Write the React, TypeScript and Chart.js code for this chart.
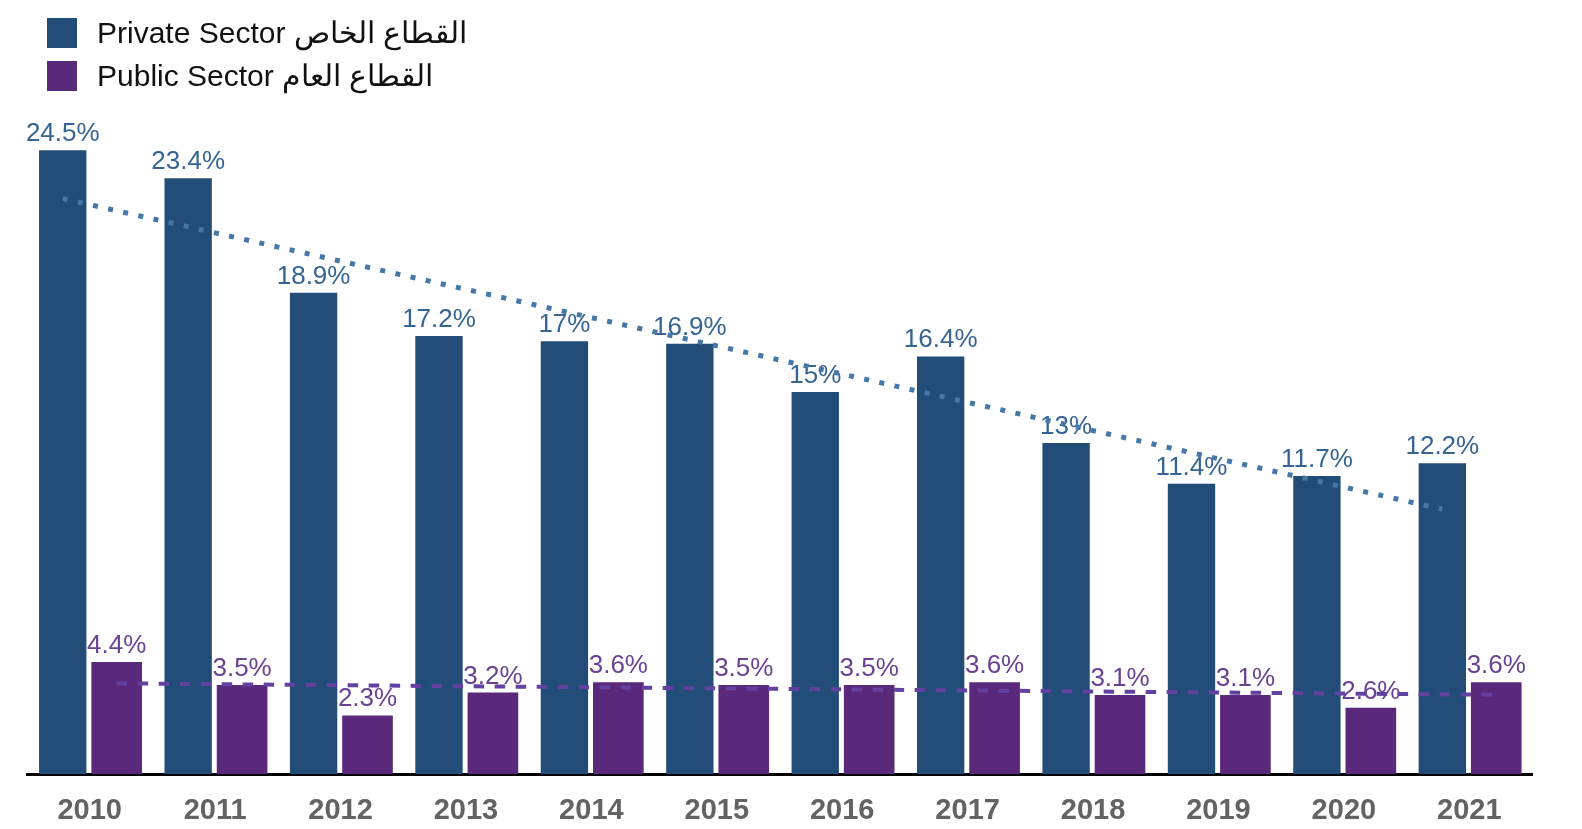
import React, { useEffect, useRef } from "react";
import { Chart, registerables } from "chart.js";

Chart.register(...registerables);

const years = ["2010", "2011", "2012", "2013", "2014", "2015", "2016", "2017", "2018", "2019", "2020", "2021"];
const privateSector = [24.5, 23.4, 18.9, 17.2, 17, 16.9, 15, 16.4, 13, 11.4, 11.7, 12.2];
const publicSector = [4.4, 3.5, 2.3, 3.2, 3.6, 3.5, 3.5, 3.6, 3.1, 3.1, 2.6, 3.6];
// trend line values read at the first and last year
const trendIndex = [0, 11];
const privateTrend = [22.6, 10.4];
const publicTrend = [3.56, 3.11];
const legendLabels = ["Private Sector القطاع الخاص", "Public Sector القطاع العام"];

const PRIVATE_COLOR = "#214d78";
const PUBLIC_COLOR = "#5b297b";
const PRIVATE_LABEL = "#36649395";
const PUBLIC_LABEL = "#6a4293";
const PRIVATE_TREND = "#4677a9";
const PUBLIC_TREND = "#6241a0";
const CATEGORY_PCT = 0.86;
const FONT = '"Liberation Sans", Arial, Helvetica, sans-serif';

const trends = [
  { datasetIndex: 0, values: privateTrend, color: PRIVATE_TREND, dash: [5, 10.5], width: 5 },
  { datasetIndex: 1, values: publicTrend, color: PUBLIC_TREND, dash: [10.5, 10.5], width: 4 },
];

const labelsAndTrends = {
  id: "labelsAndTrends",
  afterDatasetsDraw(chart: any) {
    const ctx = chart.ctx;
    const yScale = chart.scales.y;
    // value labels
    chart.data.datasets.forEach((ds: any, di: number) => {
      const meta = chart.getDatasetMeta(di);
      ctx.save();
      ctx.font = `26px ${FONT}`;
      ctx.fillStyle = ds.labelColor;
      ctx.textAlign = "center";
      ctx.textBaseline = "alphabetic";
      meta.data.forEach((el: any, i: number) => {
        ctx.fillText(`${ds.data[i]}%`, el.x, el.y - 9);
      });
      ctx.restore();
    });
    // trend lines
    trends.forEach((t) => {
      const meta = chart.getDatasetMeta(t.datasetIndex);
      ctx.save();
      ctx.strokeStyle = t.color;
      ctx.lineWidth = t.width;
      ctx.lineCap = "butt";
      ctx.setLineDash(t.dash);
      ctx.beginPath();
      trendIndex.forEach((xi, k) => {
        const x = meta.data[xi].x;
        const y = yScale.getPixelForValue(t.values[k]);
        if (k === 0) ctx.moveTo(x, y);
        else ctx.lineTo(x, y);
      });
      ctx.stroke();
      ctx.restore();
    });
  },
};

export default function App() {
  const ref = useRef<HTMLCanvasElement | null>(null);

  useEffect(() => {
    if (!ref.current) return;
    const chart = new Chart(ref.current, {
      type: "bar",
      data: {
        labels: years,
        datasets: [
          {
            label: legendLabels[0],
            data: privateSector,
            backgroundColor: PRIVATE_COLOR,
            barPercentage: 0.878,
            categoryPercentage: CATEGORY_PCT,
            labelColor: "#366493",
          } as any,
          {
            label: legendLabels[1],
            data: publicSector,
            backgroundColor: PUBLIC_COLOR,
            barPercentage: 0.939,
            categoryPercentage: CATEGORY_PCT,
            labelColor: PUBLIC_LABEL,
          } as any,
        ],
      },
      options: {
        animation: false,
        responsive: true,
        maintainAspectRatio: false,
        layout: { padding: { top: 112, left: 27, right: 50, bottom: 0 } },
        plugins: {
          legend: { display: false },
          tooltip: { enabled: false },
        },
        scales: {
          x: {
            type: "category",
            offset: true,
            grid: { display: false, drawTicks: false },
            border: { display: true, color: "#000000", width: 3 },
            ticks: {
              color: "#636363",
              font: { size: 29, weight: "bold", family: FONT },
              padding: 20,
              maxRotation: 0,
              autoSkip: false,
            },
            afterFit: (scale: any) => {
              scale.height = 55;
            },
          },
          y: {
            display: false,
            min: 0,
            max: 26,
          },
        },
      } as any,
      plugins: [labelsAndTrends],
    });
    return () => chart.destroy();
  }, []);

  const colors = [PRIVATE_COLOR, PUBLIC_COLOR];

  return (
    <div style={{ position: "fixed", left: 0, top: 0, width: 1582, height: 829, background: "#fff" }}>
      <canvas ref={ref} />
      {legendLabels.map((label, i) => (
        <div
          key={label}
          style={{
            position: "absolute",
            left: 47,
            top: 18 + i * 43,
            height: 30,
            display: "flex",
            alignItems: "center",
            whiteSpace: "nowrap",
          }}
        >
          <span style={{ display: "inline-block", width: 30, height: 30, background: colors[i] }} />
          <span
            style={{
              marginLeft: 20,
              fontFamily: FONT,
              fontSize: 30,
              lineHeight: "30px",
              color: "#111",
            }}
          >
            {label}
          </span>
        </div>
      ))}
    </div>
  );
}
